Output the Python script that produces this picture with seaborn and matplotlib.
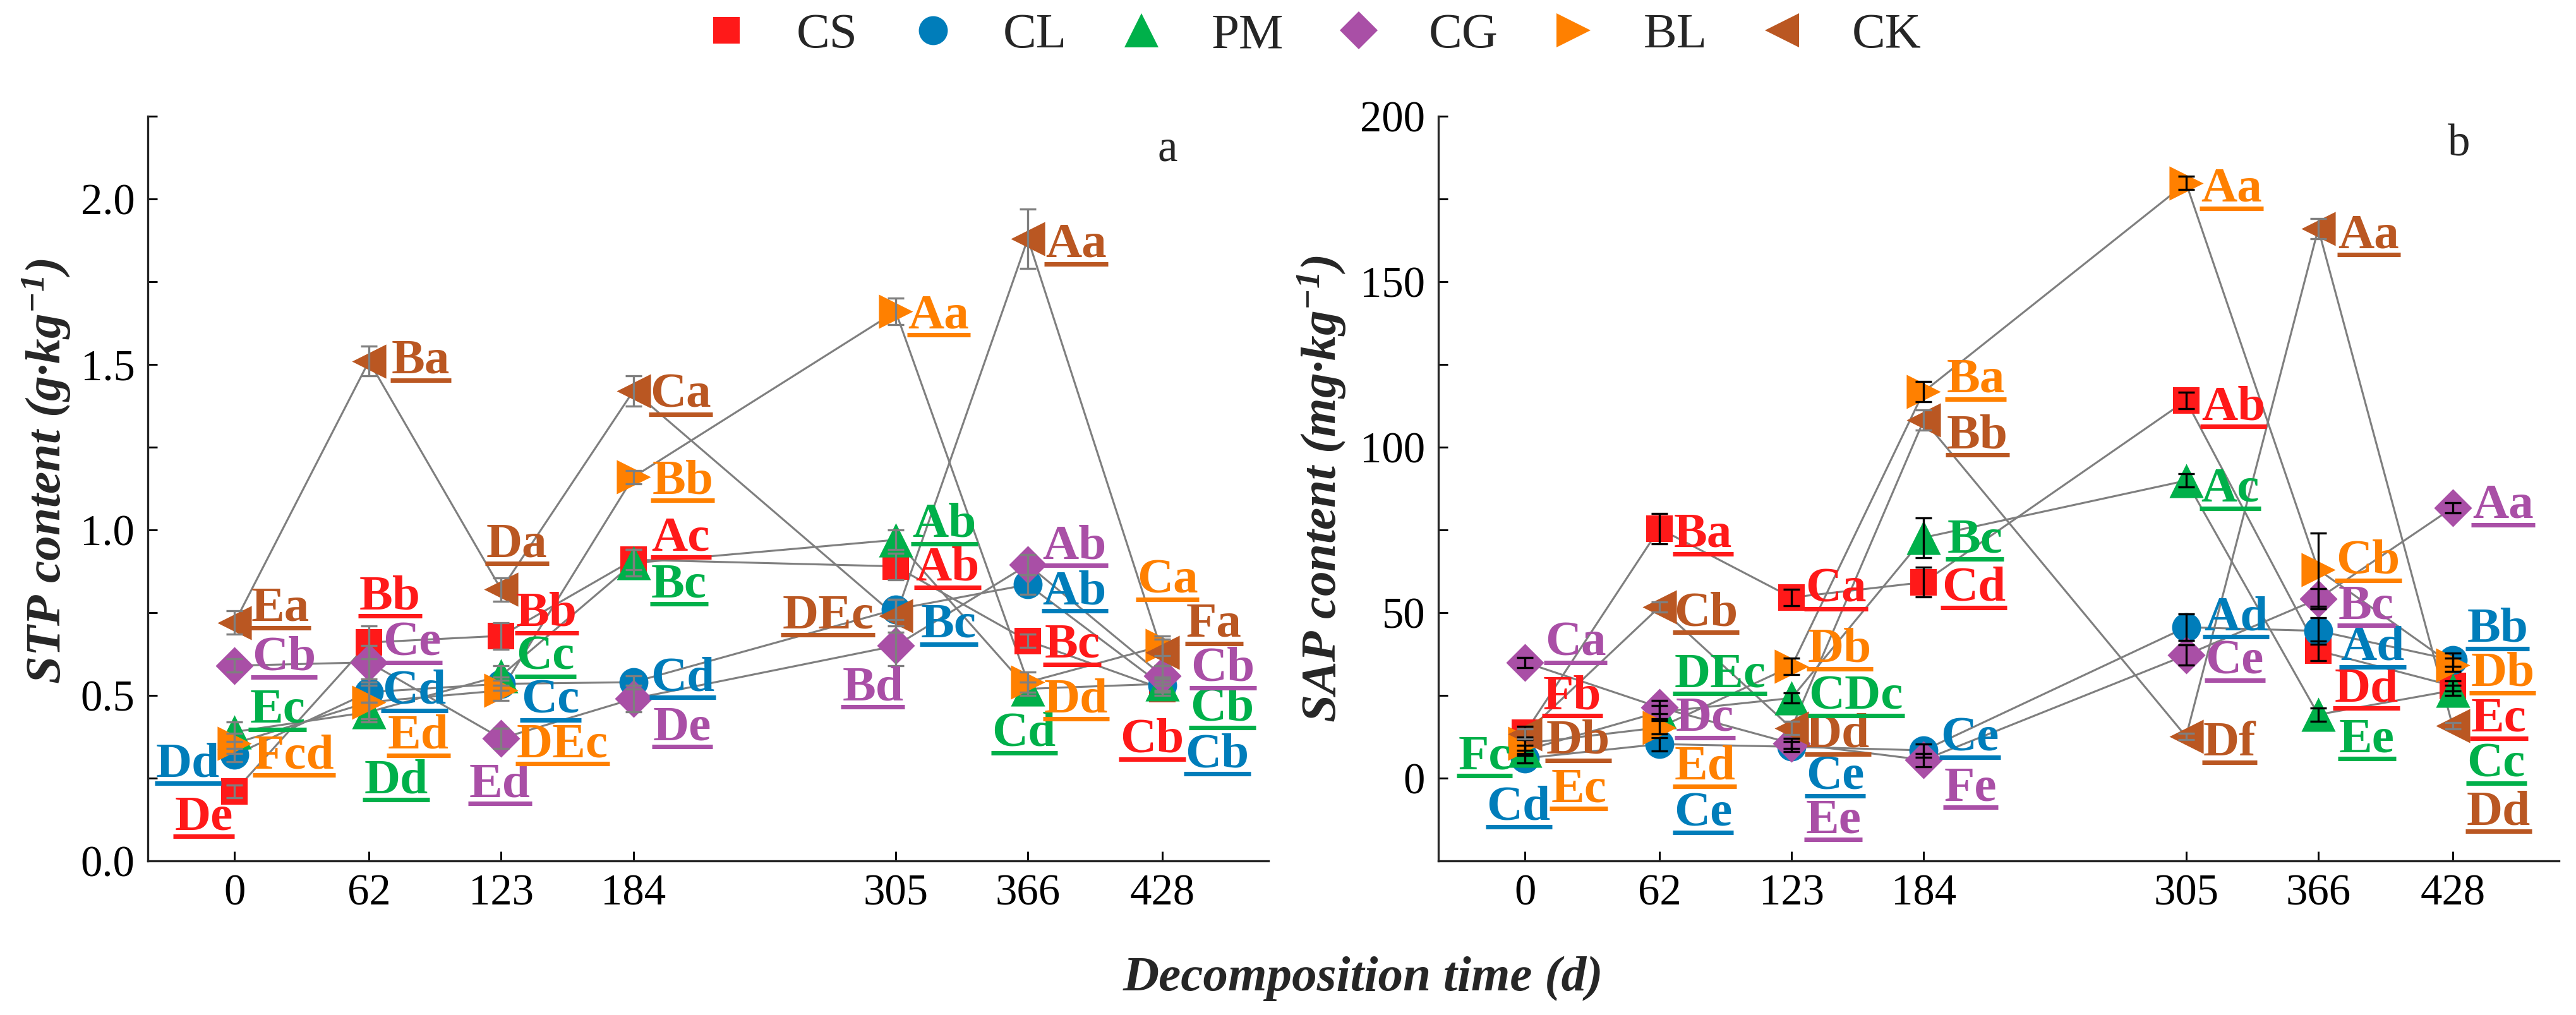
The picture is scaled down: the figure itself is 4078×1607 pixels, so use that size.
import numpy as np
import pandas as pd
import matplotlib
matplotlib.use("Agg")
import matplotlib.pyplot as plt
import seaborn as sns
from matplotlib.lines import Line2D
from matplotlib.ticker import MultipleLocator

# ---------------- data ----------------
days = [0, 62, 123, 184, 305, 366, 428]
treatments = ["CS", "CL", "PM", "CG", "BL", "CK"]

stp_CS = [0.21, 0.66, 0.68, 0.91, 0.89, 0.665, 0.52]
stp_CL = [0.32, 0.51, 0.535, 0.54, 0.76, 0.835, 0.53]
stp_PM = [0.39, 0.45, 0.56, 0.90, 0.97, 0.52, 0.535]
stp_CG = [0.59, 0.60, 0.37, 0.49, 0.65, 0.895, 0.56]
stp_BL = [0.355, 0.48, 0.515, 1.16, 1.66, 0.54, 0.65]
stp_CK = [0.72, 1.51, 0.82, 1.42, 0.74, 1.88, 0.63]

stp_err_CS = [0.02, 0.05, 0.04, 0.03, 0.04, 0.02, 0.02]
stp_err_CL = [0.02, 0.03, 0.02, 0.02, 0.03, 0.03, 0.02]
stp_err_PM = [0.03, 0.03, 0.03, 0.04, 0.03, 0.02, 0.02]
stp_err_CG = [0.02, 0.05, 0.03, 0.04, 0.06, 0.03, 0.03]
stp_err_BL = [0.03, 0.05, 0.03, 0.02, 0.04, 0.03, 0.03]
stp_err_CK = [0.035, 0.045, 0.035, 0.045, 0.05, 0.09, 0.04]

sap_CS = [13.7, 75.4, 54.6, 59.2, 114.1, 38.5, 27.9]
sap_CL = [6.0, 10.3, 9.5, 8.4, 45.6, 44.5, 35.7]
sap_PM = [8.4, 20.0, 24.2, 72.7, 89.9, 19.2, 26.5]
sap_CG = [35.0, 21.4, 10.5, 5.5, 37.2, 54.2, 81.7]
sap_BL = [10.5, 15.3, 33.8, 116.8, 179.8, 63.0, 34.2]
sap_CK = [13.4, 51.7, 15.1, 108.2, 12.6, 166.0, 15.8]

sap_err_CS = [2.0, 4.5, 2.5, 4.5, 2.5, 3.0, 1.5]
sap_err_CL = [1.5, 2.0, 1.5, 2.0, 4.0, 4.0, 2.0]
sap_err_PM = [1.5, 2.0, 1.5, 6.0, 2.0, 2.0, 1.5]
sap_err_CG = [1.5, 2.0, 1.5, 2.0, 3.0, 3.0, 1.5]
sap_err_BL = [2.0, 2.0, 2.5, 3.0, 2.0, 11.0, 2.0]
sap_err_CK = [1.5, 1.5, 2.0, 3.0, 1.0, 3.0, 1.0]

stp_let_CS = ["De", "Bb", "Bb", "Ac", "Ab", "Bc", "Cb"]
stp_let_CL = ["Dd", "Cd", "Cc", "Cd", "Bc", "Ab", "Cb"]
stp_let_PM = ["Ec", "Dd", "Cc", "Bc", "Ab", "Cd", "Cb"]
stp_let_CG = ["Cb", "Ce", "Ed", "De", "Bd", "Ab", "Cb"]
stp_let_BL = ["Fcd", "Ed", "DEc", "Bb", "Aa", "Dd", "Ca"]
stp_let_CK = ["Ea", "Ba", "Da", "Ca", "DEc", "Aa", "Fa"]

sap_let_CS = ["Fb", "Ba", "Ca", "Cd", "Ab", "Dd", "Ec"]
sap_let_CL = ["Cd", "Ce", "Ce", "Ce", "Ad", "Ad", "Bb"]
sap_let_PM = ["Fc", "DEc", "CDc", "Bc", "Ac", "Ee", "Cc"]
sap_let_CG = ["Ca", "Dc", "Ee", "Fe", "Ce", "Bc", "Aa"]
sap_let_BL = ["Ec", "Ed", "Db", "Ba", "Aa", "Cb", "Db"]
sap_let_CK = ["Db", "Cb", "Dd", "Bb", "Df", "Aa", "Dd"]

# ---------------- layout / style ----------------
# label offsets (pixels: right, down) of the label centre from the marker
stp_off = {
    "CS": [(-49, 34), (33, -79), (72, -42), (75, -41), (82, -4), (70, 0), (-16, 74)],
    "CL": [(-74, 8), (72, -8), (78, 20), (78, -13), (84, 18), (74, 5), (87, 103)],
    "PM": [(68, -41), (43, 102), (70, -36), (72, 28), (77, -31), (-6, 64), (95, 32)],
    "CG": [(78, -19), (68, -37), (-2, 66), (77, 39), (-36, 60), (74, -36), (96, -18)],
    "BL": [(94, 13), (78, 47), (97, 79), (78, 0), (68, 0), (76, 21), (8, -110)],
    "CK": [(72, -29), (82, -7), (25, -78), (75, 0), (-107, -7), (76, 3), (82, -51)],
}
sap_off = {
    "CS": [(75, -64), (69, 3), (70, -19), (79, 3), (75, 4), (76, 54), (73, 46)],
    "CL": [(-10, 71), (69, 103), (69, 41), (73, -26), (79, -22), (86, 20), (71, -55)],
    "PM": [(-64, 3), (96, -66), (102, -9), (81, -3), (70, 7), (77, 33), (69, 110)],
    "CG": [(80, -37), (72, 11), (66, 115), (74, 38), (77, 3), (76, 5), (80, -10)],
    "BL": [(85, 66), (72, 56), (76, -33), (82, -25), (72, 3), (79, -20), (79, 7)],
    "CK": [(84, 5), (74, 3), (73, 4), (85, 18), (69, 4), (80, 4), (73, 130)],
}

colors = {"CS": "#FF1919", "CL": "#007DBA", "PM": "#00B04A",
          "CG": "#A94FA6", "BL": "#FF8000", "CK": "#BA5722"}
markers = {"CS": "s", "CL": "o", "PM": "^", "CG": "D", "BL": ">", "CK": "<"}
msize = {"CS": 10.3, "CL": 11, "PM": 13, "CG": 10.2, "BL": 13, "CK": 13}

stp_vals = {"CS": stp_CS, "CL": stp_CL, "PM": stp_PM, "CG": stp_CG, "BL": stp_BL, "CK": stp_CK}
stp_errs = {"CS": stp_err_CS, "CL": stp_err_CL, "PM": stp_err_PM, "CG": stp_err_CG,
            "BL": stp_err_BL, "CK": stp_err_CK}
stp_lets = {"CS": stp_let_CS, "CL": stp_let_CL, "PM": stp_let_PM, "CG": stp_let_CG,
            "BL": stp_let_BL, "CK": stp_let_CK}
sap_vals = {"CS": sap_CS, "CL": sap_CL, "PM": sap_PM, "CG": sap_CG, "BL": sap_BL, "CK": sap_CK}
sap_errs = {"CS": sap_err_CS, "CL": sap_err_CL, "PM": sap_err_PM, "CG": sap_err_CG,
            "BL": sap_err_BL, "CK": sap_err_CK}
sap_lets = {"CS": sap_let_CS, "CL": sap_let_CL, "PM": sap_let_PM, "CG": sap_let_CG,
            "BL": sap_let_BL, "CK": sap_let_CK}


def long_df(vals, errs, lets):
    rows = []
    for t in treatments:
        for i, d in enumerate(days):
            rows.append({"treat": t, "day": d, "val": vals[t][i], "err": errs[t][i],
                         "let": lets[t][i], "idx": i})
    return pd.DataFrame(rows)


df_a = long_df(stp_vals, stp_errs, stp_lets)
df_b = long_df(sap_vals, sap_errs, sap_lets)

sns.set_theme(style="ticks")
plt.rcParams["font.family"] = ["Liberation Serif", "DejaVu Serif"]
plt.rcParams["mathtext.fontset"] = "custom"
plt.rcParams["mathtext.rm"] = "Liberation Serif:italic:bold"
plt.rcParams["mathtext.it"] = "Liberation Serif:italic:bold"
plt.rcParams["mathtext.bf"] = "Liberation Serif:italic:bold"
plt.rcParams["axes.linewidth"] = 0.8

DPI = 300
fig = plt.figure(figsize=(4079 / DPI, 1607 / DPI), dpi=DPI)
ax_a = fig.add_axes([0.0574, 0.1518, 0.4349, 0.7337])
ax_b = fig.add_axes([0.5582, 0.1518, 0.4349, 0.7337])

LABEL_FS = 19
CAP_HALF = 26  # px, half cap height of labels

texts = []


def draw_panel(ax, df, offs, err_color_default, err_colors):
    sns.lineplot(data=df, x="day", y="val", units="treat", estimator=None, sort=False,
                 color="#7F7F7F", lw=0.75, ax=ax, legend=False, zorder=1)
    for t in treatments:
        sub = df[df.treat == t]
        sns.scatterplot(data=sub, x="day", y="val", marker=markers[t], color=colors[t],
                        s=msize[t] ** 2, linewidth=0, ax=ax, legend=False, zorder=3)
        ax.errorbar(sub["day"], sub["val"], yerr=sub["err"], fmt="none",
                    ecolor=err_colors.get(t, err_color_default), elinewidth=0.8,
                    capsize=3.2, capthick=0.8, zorder=4)
        for _, r in sub.iterrows():
            dx, dy = offs[t][int(r["idx"])]
            txt = ax.annotate(r["let"], xy=(r["day"], r["val"]), xytext=(dx, -(dy + CAP_HALF)),
                              textcoords="offset pixels", ha="center", va="baseline",
                              fontsize=LABEL_FS, fontweight="bold", color=colors[t],
                              zorder=5, annotation_clip=False)
            texts.append((txt, colors[t]))
    ax.set_xlim(-40, 477)
    ax.set_xticks(days)
    ax.set_xticklabels([str(d) for d in days])
    ax.set_xlabel("")
    ax.set_ylabel("")
    for s in ["top", "right"]:
        ax.spines[s].set_visible(False)
    ax.tick_params(axis="both", which="both", direction="in", length=3.7, width=0.7,
                   labelsize=16.5, pad=5, colors="black")


draw_panel(ax_a, df_a, stp_off, "#7F7F7F", {})
ax_a.set_ylim(0, 2.25)
ax_a.yaxis.set_major_locator(MultipleLocator(0.5))
ax_a.yaxis.set_minor_locator(MultipleLocator(0.25))
ax_a.yaxis.set_major_formatter(matplotlib.ticker.FormatStrFormatter("%.1f"))

draw_panel(ax_b, df_b, sap_off, "black", {"CK": "#7F7F7F"})
ax_b.set_ylim(-25, 200)
ax_b.yaxis.set_major_locator(MultipleLocator(50))
ax_b.yaxis.set_minor_locator(MultipleLocator(25))
ax_b.yaxis.set_major_formatter(matplotlib.ticker.FormatStrFormatter("%d"))
ax_b.tick_params(axis="x", which="minor", bottom=False)
ax_a.tick_params(axis="x", which="minor", bottom=False)

ax_a.text(0.91, 0.955, "a", transform=ax_a.transAxes, ha="center", va="center", fontsize=17)
ax_b.text(0.911, 0.962, "b", transform=ax_b.transAxes, ha="center", va="center", fontsize=17)

fig.text(0.0182, 0.536, "STP content (g·kg$^{-1}$)", rotation=90, ha="center", va="center",
         fontsize=19, fontweight="bold", fontstyle="italic")
fig.text(0.5130, 0.518, "SAP content (mg·kg$^{-1}$)", rotation=90, ha="center", va="center",
         fontsize=19, fontweight="bold", fontstyle="italic")
fig.text(0.529, 0.0243, "Decomposition time (d)", ha="center", va="baseline",
         fontsize=19, fontweight="bold", fontstyle="italic")

handles = [Line2D([], [], marker=markers[t], color=colors[t], linestyle="none",
                  markersize=msize[t], markeredgewidth=0) for t in treatments]
fig.legend(handles, treatments, loc="center", bbox_to_anchor=(0.509, 0.965), ncol=6,
           frameon=False, fontsize=19, handlelength=1.0, handletextpad=0.9,
           columnspacing=1.0)

# underline the significance letters
fig.canvas.draw()
renderer = fig.canvas.get_renderer()
inv = fig.transFigure.inverted()
for txt, c in texts:
    bb = txt.get_window_extent(renderer)
    y_u = bb.y0 + 6
    p0 = inv.transform((bb.x0 - 2, y_u))
    p1 = inv.transform((bb.x1 + 2, y_u))
    fig.add_artist(Line2D([p0[0], p1[0]], [p0[1], p1[1]], color=c, lw=1.7,
                          solid_capstyle="butt", transform=fig.transFigure, zorder=5))

fig.savefig("out.png", dpi=DPI)
